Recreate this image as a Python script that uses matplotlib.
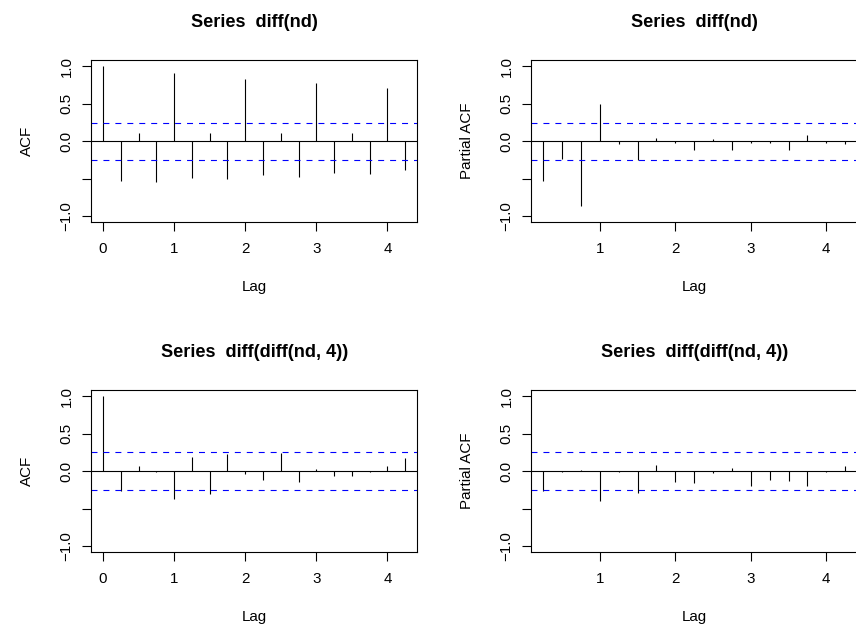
import matplotlib
matplotlib.use("Agg")
import matplotlib.pyplot as plt
import numpy as np

plt.rcParams['font.family'] = ['Liberation Sans', 'DejaVu Sans']
plt.rcParams['lines.scale_dashes'] = False

# Data
acf1_lags = [0, 0.25, 0.5, 0.75, 1.0, 1.25, 1.5, 1.75, 2.0, 2.25, 2.5, 2.75, 3.0, 3.25, 3.5, 3.75, 4.0, 4.25]
acf1_vals = [1.0, -0.533, 0.111, -0.542, 0.907, -0.489, 0.102, -0.502, 0.827, -0.449, 0.107, -0.48,
             0.769, -0.418, 0.107, -0.44, 0.707, -0.378]

pacf1_lags = [0.25, 0.5, 0.75, 1.0, 1.25, 1.5, 1.75, 2.0, 2.25, 2.5, 2.75, 3.0, 3.25, 3.5, 3.75, 4.0, 4.25]
pacf1_vals = [-0.533, -0.24, -0.858, 0.498, -0.036, -0.249, 0.036, -0.02, -0.116, 0.031, -0.116,
              -0.02, -0.03, -0.116, 0.08, -0.02, -0.04]

acf2_lags = acf1_lags
acf2_vals = [1.0, -0.264, 0.07, -0.013, -0.374, 0.194, -0.304, 0.233, -0.04, -0.123, 0.242, -0.141,
             0.022, -0.062, -0.07, -0.013, 0.062, 0.172]

pacf2_lags = pacf1_lags
pacf2_vals = [-0.26, -0.013, 0.013, -0.398, -0.013, -0.296, 0.08, -0.15, -0.159, -0.027, 0.044,
              -0.204, -0.124, -0.133, -0.204, -0.013, 0.075]

ci1 = 0.247
ci2 = 0.255

titles = ["Series  diff(nd)", "Series  diff(nd)", "Series  diff(diff(nd, 4))", "Series  diff(diff(nd, 4))"]
ylabels = ["ACF", "Partial ACF", "ACF", "Partial ACF"]
yticks = [-1.0, -0.5, 0.0, 0.5, 1.0]
yticklabels = ["\u22121.0", "", "0.0", "0.5", "1.0"]

W, H = 856, 626
fig = plt.figure(figsize=(W / 100, H / 100), dpi=100)

def px_axes(left, top, right, bottom):
    return fig.add_axes([left / W, 1 - bottom / H, (right - left) / W, (bottom - top) / H])

boxes = [(91, 60, 417.3, 222.3), (531, 60, 857.3, 222.3),
         (91, 390, 417.3, 552.3), (531, 390, 857.3, 552.3)]
datas = [(acf1_lags, acf1_vals, ci1), (pacf1_lags, pacf1_vals, ci1),
         (acf2_lags, acf2_vals, ci2), (pacf2_lags, pacf2_vals, ci2)]

fs = 10.9
for i, (box, (lags, vals, ci)) in enumerate(zip(boxes, datas)):
    ax = px_axes(*box)
    lo, hi = min(lags), max(lags)
    ext = (hi - lo) * 0.04
    ax.set_xlim(lo - ext, hi + ext)
    ax.set_ylim(-1.08, 1.08)
    ax.vlines(lags, 0, vals, colors='black', linewidth=0.8)
    ax.axhline(0, color='black', linewidth=0.8)
    for c in (ci, -ci):
        ax.axhline(c, color='#0000ff', linewidth=0.8, linestyle=(0, (4.3, 4.3)))
    xt = [t for t in [0, 1, 2, 3, 4] if lo - ext <= t <= hi + ext]
    ax.set_xticks(xt)
    ax.set_xticklabels([str(t) for t in xt])
    ax.set_yticks(yticks)
    ax.set_yticklabels(yticklabels, rotation=90, va='center')
    ax.tick_params(axis='both', direction='out', length=6.5, width=0.8, labelsize=fs, color='black')
    ax.tick_params(axis='x', pad=8)
    ax.tick_params(axis='y', pad=6)
    for s in ax.spines.values():
        s.set_linewidth(0.8)
    ax.set_title(titles[i], fontsize=13.1, fontweight='bold', pad=23.5)
    ax.set_xlabel("Lag", fontsize=fs)
    ax.xaxis.set_label_coords(0.5, -65 / 162.3)
    ax.xaxis.label.set_va('center')
    ax.set_ylabel(ylabels[i], fontsize=fs, va='center')
    ax.yaxis.set_label_coords(-64 / 326.3, 0.5)

fig.savefig("out.png", dpi=100)
